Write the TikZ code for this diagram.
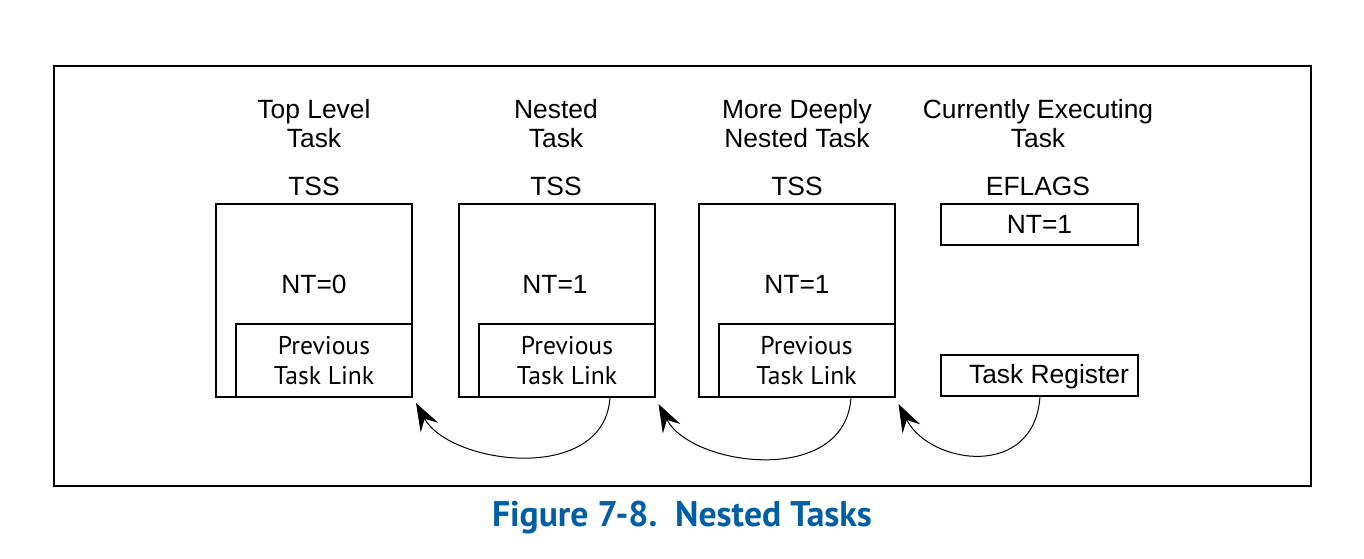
\documentclass[tikz,border=0pt]{standalone}
\usepackage{fontspec}
\setmainfont{Liberation Sans}
\newfontfamily\clearfont{PT Sans}
\usetikzlibrary{arrows.meta}
\definecolor{capblue}{RGB}{0,94,164}
\tikzset{
  lbl/.style={font=\fontsize{13.2}{14.5}\selectfont, align=center, inner sep=0pt},
  clr/.style={font=\clearfont\fontsize{12.8}{15}\selectfont, align=center, inner sep=0pt},
  tss/.style={draw, line width=1pt, minimum width=98pt, minimum height=96.5pt, inner sep=0pt},
  link/.style={draw, line width=1pt, minimum width=88pt, minimum height=36.5pt, inner sep=0pt},
  reg/.style={draw, line width=1pt, minimum width=98.5pt, minimum height=20.5pt, inner sep=0pt},
  back/.style={-{Stealth[length=14pt,width=10pt,inset=5pt]}, line width=0.5pt}
}
\begin{document}
\begin{tikzpicture}[x=0.5pt,y=-0.5pt]
\useasboundingbox (0,0) rectangle (1364,558);
\node[draw, line width=0.75pt, minimum width=628.5pt, minimum height=210pt, inner sep=0pt] (frame) at (682.5,276) {};

% titles
\node[lbl] (t1) at (314,123.5) {Top Level\\Task};
\node[lbl] (t2) at (556,123.5) {Nested\\Task};
\node[lbl] (t3) at (797,123.5) {More Deeply\\Nested Task};
\node[lbl] (t4) at (1038,123.5) {Currently Executing\\Task};
\node[lbl] (h1) at (314,186) {TSS};
\node[lbl] (h2) at (556,186) {TSS};
\node[lbl] (h3) at (797,186) {TSS};
\node[lbl] (h4) at (1038,186) {EFLAGS};

% TSS boxes
\node[tss] (b1) at (314,300.5) {};
\node[tss] (b2) at (556.5,300.5) {};
\node[tss] (b3) at (796.5,300.5) {};
\node[lbl] (nt1) at (314,284) {NT=0};
\node[lbl] (nt2) at (555,284) {NT=1};
\node[lbl] (nt3) at (797,284) {NT=1};

% previous task link boxes
\node[link, clr] (l1) at (324,360.5) {Previous\\Task Link};
\node[link, clr] (l2) at (567,360.5) {Previous\\Task Link};
\node[link, clr] (l3) at (806.5,360.5) {Previous\\Task Link};

% current task
\node[reg, lbl] (ef) at (1039.5,224.5) {NT=1};
\node[reg] (tr) at (1039.5,375.5) {};
\node[lbl] (trt) at (1049,377) {Task Register};

% connectors
\coordinate (s1) at (610,397);
\coordinate (s2) at (851,397);
\coordinate (s3) at (1040,396);
\draw[back] (s1) .. controls (605,485) and (450,465) .. ([shift={(3,5)}]b1.south east);
\draw[back] (s2) .. controls (846,487) and (692,467) .. ([shift={(3,6)}]b2.south east);
\draw[back] (s3) .. controls (1035,480) and (930,465) .. ([shift={(3,6)}]b3.south east);

% caption
\node[font=\clearfont\bfseries\fontsize{17.8}{19}\selectfont, text=capblue, inner sep=0pt] (cap) at (682,518) {Figure 7-8.\ \ Nested Tasks};
\end{tikzpicture}
\end{document}
